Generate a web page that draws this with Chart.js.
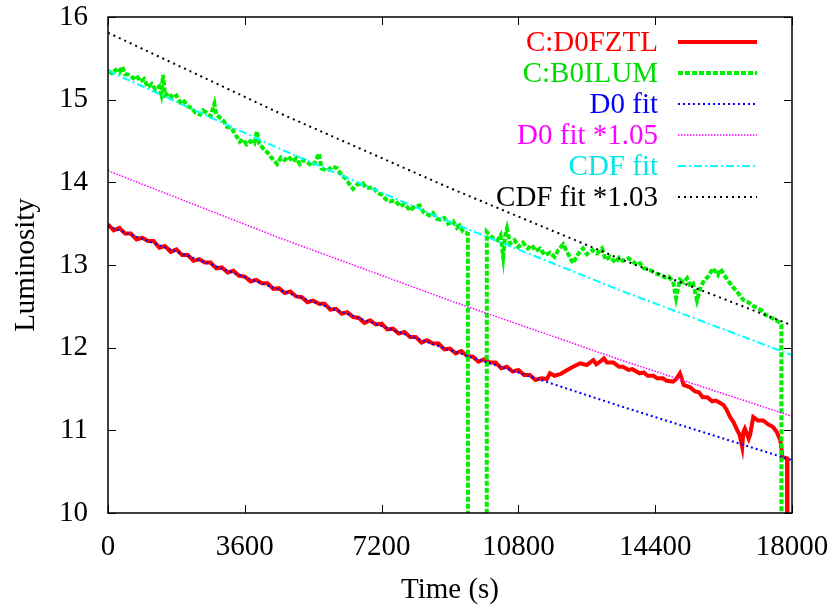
<!DOCTYPE html>
<html>
<head>
<meta charset="utf-8">
<script src="https://cdn.jsdelivr.net/npm/chart.js@4/dist/chart.umd.min.js"></script>
<style>
  html, body { margin: 0; padding: 0; background: #fff; }
  #wrap { width: 832px; height: 608px; position: relative; }
</style>
</head>
<body>
<div id="wrap"><canvas id="chart"></canvas></div>
<script>
// === data ===
const timeTicks = [0, 3600, 7200, 10800, 14400, 18000];
const lumTicks = [10, 11, 12, 13, 14, 15, 16];

// C:D0FZTL (red)
const redT = [0, 150, 300, 450, 600, 750, 900, 1050, 1200, 1350,
  1500, 1650, 1800, 1950, 2100, 2250, 2400, 2550, 2700, 2850,
  3000, 3150, 3300, 3450, 3600, 3750, 3900, 4050, 4200, 4350,
  4500, 4650, 4800, 4950, 5100, 5250, 5400, 5550, 5700, 5850,
  6000, 6150, 6300, 6450, 6600, 6750, 6900, 7050, 7200, 7350,
  7500, 7650, 7800, 7950, 8100, 8250, 8400, 8550, 8700, 8850,
  9000, 9150, 9300, 9450, 9600, 9750, 9900, 10050, 10200, 10350,
  10500, 10650, 10800, 10950, 11100, 11250, 11400,
  11550, 11630, 11750, 11900, 12050, 12240, 12420, 12600, 12770, 12850,
  12950, 13050, 13130, 13300, 13450, 13550, 13700, 13800, 13990, 14100,
  14200, 14350, 14450, 14600, 14700, 14870, 14950, 15050, 15150, 15320,
  15450, 15550, 15650, 15770, 15900, 16000, 16190, 16280, 16370, 16460,
  16560, 16620, 16690, 16720, 16760, 16820, 16860, 16900, 16980, 17100,
  17240, 17380, 17500, 17600, 17690, 17720, 17740, 17870, 17880];
const redL = [13.49, 13.42, 13.45, 13.38, 13.38, 13.31, 13.33, 13.29, 13.29, 13.21,
  13.23, 13.16, 13.19, 13.12, 13.12, 13.05, 13.07, 13.03, 13.03, 12.96,
  12.97, 12.91, 12.93, 12.87, 12.86, 12.80, 12.82, 12.78, 12.78, 12.71,
  12.72, 12.66, 12.68, 12.62, 12.61, 12.55, 12.57, 12.53, 12.53, 12.46,
  12.47, 12.41, 12.43, 12.37, 12.36, 12.30, 12.33, 12.28, 12.29, 12.22,
  12.23, 12.17, 12.19, 12.13, 12.13, 12.06, 12.09, 12.05, 12.05, 11.98,
  11.99, 11.93, 11.96, 11.90, 11.89, 11.83, 11.86, 11.82, 11.82, 11.75,
  11.77, 11.71, 11.73, 11.67, 11.67, 11.61, 11.63,
  11.62, 11.69, 11.66, 11.68, 11.72, 11.77, 11.81, 11.79, 11.85, 11.80,
  11.83, 11.87, 11.82, 11.82, 11.77, 11.77, 11.73, 11.74, 11.69, 11.70,
  11.66, 11.66, 11.63, 11.63, 11.60, 11.59, 11.62, 11.69, 11.55, 11.52,
  11.47, 11.46, 11.40, 11.40, 11.35, 11.36, 11.31, 11.25, 11.16, 11.10,
  11.00, 10.95, 10.80, 10.98, 11.02, 10.95, 10.90, 10.95, 11.16, 11.12,
  11.12, 11.07, 11.04, 10.98, 10.88, 10.80, 10.68, 10.66, 0];

// C:B0ILUM (green)
const greenT = [0, 100, 200, 300, 370, 450, 550, 660, 750, 850,
  950, 1050, 1150, 1250, 1350, 1400, 1450, 1500, 1600, 1700,
  1800, 1900, 1970, 2100, 2200, 2300, 2420, 2500, 2600, 2700,
  2800, 2850, 2950, 3050, 3130, 3250, 3350, 3470, 3550, 3650,
  3750, 3850, 3920, 3980, 4100, 4200, 4300, 4450, 4550, 4650,
  4750, 4870, 4950, 5050, 5150, 5240, 5350, 5450, 5550, 5620,
  5760, 5900, 6030, 6150, 6250, 6350, 6450, 6550, 6700, 6800,
  6970, 7100, 7200, 7300, 7420, 7550, 7700, 7800, 7950, 8050,
  8200, 8300, 8450, 8550, 8650, 8740, 8850, 8950, 9080, 9180,
  9250, 9350, 9470, 9480, 9960, 9970, 10050, 10150, 10250, 10330,
  10400, 10450, 10500, 10580, 10700, 10800, 10920, 11050, 11150, 11250,
  11370, 11500, 11630, 11750, 11850, 11980, 12100, 12240, 12350, 12500,
  12600, 12750, 12870, 13000, 13100, 13210, 13350, 13450, 13550, 13700,
  13820, 13920, 14000, 14100, 14190, 14300, 14400, 14530, 14650, 14750,
  14870, 14950, 15050, 15150, 15240, 15330, 15400, 15500, 15600, 15700,
  15800, 15920, 16050, 16120, 16190, 16300, 16450, 16550, 16650, 16710,
  16850, 16950, 17080, 17200, 17300, 17420, 17550, 17690, 17720, 17730];
const greenL = [15.35, 15.32, 15.36, 15.33, 15.40, 15.31, 15.30, 15.26, 15.29, 15.22,
  15.25, 15.15, 15.19, 15.12, 15.16, 15.07, 15.30, 15.05, 15.08, 15.02,
  15.05, 14.97, 15.00, 14.92, 14.90, 14.84, 14.82, 14.87, 14.84, 14.80,
  14.95, 14.82, 14.78, 14.74, 14.67, 14.66, 14.58, 14.49, 14.52, 14.46,
  14.50, 14.47, 14.62, 14.47, 14.40, 14.36, 14.30, 14.22, 14.30, 14.27,
  14.31, 14.25, 14.29, 14.22, 14.27, 14.25, 14.20, 14.24, 14.35, 14.17,
  14.14, 14.19, 14.17, 14.08, 14.05, 13.98, 13.92, 13.97, 13.99, 13.93,
  13.94, 13.87, 13.85, 13.80, 13.77, 13.78, 13.71, 13.74, 13.66, 13.70,
  13.72, 13.64, 13.60, 13.63, 13.56, 13.55, 13.57, 13.50, 13.53, 13.45,
  13.48, 13.40, 13.38, 0, 0, 13.40, 13.36, 13.32, 13.30, 13.36,
  13.10, 13.35, 13.44, 13.26, 13.30, 13.22, 13.27, 13.20, 13.24, 13.17,
  13.20, 13.12, 13.15, 13.10, 13.18, 13.25, 13.14, 13.02, 13.12, 13.20,
  13.13, 13.18, 13.14, 13.20, 13.06, 13.10, 13.03, 13.09, 13.05, 13.08,
  13.04, 13.00, 13.02, 12.96, 12.95, 12.93, 12.90, 12.88, 12.85, 12.86,
  12.80, 12.60, 12.82, 12.79, 12.84, 12.74, 12.77, 12.57, 12.74, 12.82,
  12.86, 12.96, 12.88, 12.95, 12.90, 12.82, 12.73, 12.68, 12.62, 12.58,
  12.55, 12.51, 12.48, 12.45, 12.40, 12.37, 12.34, 12.30, 12.28, 0];

// fit curves
const fitT = [0, 4500, 9000, 13500, 18000];
const d0Fit = [13.47, 12.70, 11.97, 11.29, 10.64];
const d0Fit105 = [14.14, 13.33, 12.57, 11.85, 11.17];
const cdfFit = [15.35, 14.41, 13.52, 12.69, 11.91];
const cdfFit103 = [15.81, 14.84, 13.93, 13.07, 12.27];

const FONT = '"Liberation Serif", "Times New Roman", serif';
const FS = 29;

const pts = (xs, ys) => xs.map((x, i) => ({ x, y: ys[i] }));

// order: fits drawn over the data, like gnuplot does
const datasets = [
  { label: 'C:D0FZTL', data: pts(redT, redL), borderColor: '#ff0000', borderWidth: 4, textColor: '#ff0000', sampleWidth: 4, order: 6 },
  { label: 'C:B0ILUM', data: pts(greenT, greenL), borderColor: '#00ee00', borderWidth: 4, borderDash: [5, 2], textColor: '#00dd00', sampleWidth: 4, order: 5 },
  { label: 'D0 fit', data: pts(fitT, d0Fit), borderColor: '#0000ff', borderWidth: 2, borderDash: [2, 3], textColor: '#0000ff', order: 4 },
  { label: 'D0 fit *1.05', data: pts(fitT, d0Fit105), borderColor: '#ff00ff', borderWidth: 1.5, borderDash: [1.5, 1.5], textColor: '#ff00ff', order: 3 },
  { label: 'CDF fit', data: pts(fitT, cdfFit), borderColor: '#00ffff', borderWidth: 2, borderDash: [8, 3, 2, 3], textColor: '#00e8e8', order: 2 },
  { label: 'CDF fit *1.03', data: pts(fitT, cdfFit103), borderColor: '#000000', borderWidth: 2, borderDash: [2, 4], textColor: '#000000', order: 1 }
];
datasets.forEach(d => { d.pointRadius = 0; d.tension = 0; d.fill = false; });

// frame, inward ticks on all four sides, and a gnuplot style legend
const framePlugin = {
  id: 'frame',
  afterDraw(chart) {
    const { ctx, chartArea: a, scales } = chart;
    ctx.save();
    ctx.strokeStyle = '#000';
    ctx.lineWidth = 1;
    const tl = 8;
    ctx.beginPath();
    timeTicks.forEach(v => {
      const x = Math.round(scales.x.getPixelForValue(v)) + 0.5;
      ctx.moveTo(x, a.bottom); ctx.lineTo(x, a.bottom - tl);
      ctx.moveTo(x, a.top); ctx.lineTo(x, a.top + tl);
    });
    lumTicks.forEach(v => {
      const y = Math.round(scales.y.getPixelForValue(v)) + 0.5;
      ctx.moveTo(a.left, y); ctx.lineTo(a.left + tl, y);
      ctx.moveTo(a.right, y); ctx.lineTo(a.right - tl, y);
    });
    ctx.stroke();
    ctx.lineWidth = 1.5;
    ctx.strokeRect(a.left, a.top, a.right - a.left, a.bottom - a.top);

    // legend
    ctx.font = FS + 'px ' + FONT;
    ctx.textAlign = 'right';
    ctx.textBaseline = 'middle';
    chart.data.datasets.forEach((d, i) => {
      const y = 42 + i * 31;
      ctx.fillStyle = d.textColor;
      ctx.fillText(d.label, 658, y + 1);
      ctx.strokeStyle = d.borderColor;
      ctx.lineWidth = d.sampleWidth || d.borderWidth;
      ctx.setLineDash(d.borderDash || []);
      ctx.beginPath();
      ctx.moveTo(678, y); ctx.lineTo(757, y);
      ctx.stroke();
    });
    ctx.restore();
  }
};

new Chart(document.getElementById('chart'), {
  type: 'line',
  data: { datasets },
  options: {
    responsive: true,
    maintainAspectRatio: false,
    animation: false,
    layout: { padding: { left: 0, right: 40, top: 17, bottom: 0 } },
    plugins: { legend: { display: false }, tooltip: { enabled: false } },
    scales: {
      x: {
        type: 'linear', min: 0, max: 18000,
        afterFit: s => { s.height = 95; s.paddingLeft = 0; s.paddingRight = 0; },
        afterBuildTicks: s => { s.ticks = timeTicks.map(v => ({ value: v })); },
        grid: { display: false, drawTicks: false },
        border: { display: false },
        ticks: { color: '#000', font: { family: FONT, size: FS }, padding: 17, maxRotation: 0, callback: v => String(v) },
        title: { display: true, text: 'Time (s)', color: '#000', font: { family: FONT, size: FS }, padding: { top: 0, bottom: 0 } }
      },
      y: {
        min: 10, max: 16,
        afterFit: s => { s.width = 108; s.paddingTop = 0; s.paddingBottom = 0; },
        afterBuildTicks: s => { s.ticks = lumTicks.map(v => ({ value: v })); },
        grid: { display: false, drawTicks: false },
        border: { display: false },
        ticks: { color: '#000', font: { family: FONT, size: FS }, padding: 20, callback: v => String(v) },
        title: { display: true, text: 'Luminosity', color: '#000', font: { family: FONT, size: FS }, padding: { top: 9, bottom: 0 } }
      }
    }
  },
  plugins: [framePlugin]
});
</script>
</body>
</html>
